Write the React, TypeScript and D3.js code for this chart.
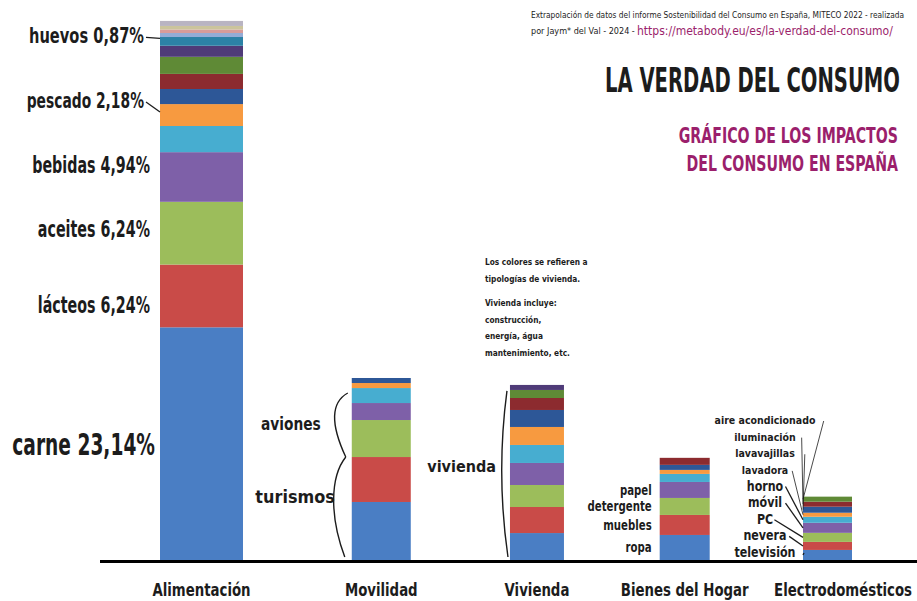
import React from "react";
import * as d3 from "d3";

// ---------- DATA ----------
const categories = ["Alimentación", "Movilidad", "Vivienda", "Bienes del Hogar", "Electrodomésticos"];

const alimentacionItems = ["carne", "lácteos", "aceites", "bebidas", "", "pescado", "", "", "", "", "huevos", "", "", "", ""];
const alimentacionValues = [23.14, 6.24, 6.24, 4.94, 2.6, 2.18, 1.5, 1.5, 1.7, 1.1, 0.87, 0.4, 0.35, 0.35, 0.5];

const movilidadValues = [5.77, 4.47, 3.68, 1.69, 1.49, 0.5, 0.5];
const movilidadGroups = ["turismos", "aviones"];
const movilidadGroupSizes = [2, 5];

const viviendaValues = [2.68, 2.59, 2.19, 2.19, 1.79, 1.79, 1.69, 1.19, 0.8, 0.5];

const bienesItems = ["ropa", "muebles", "detergente", "papel", "", "", "", ""];
const bienesValues = [2.49, 1.99, 1.69, 1.59, 0.8, 0.4, 0.5, 0.7];

const electroItems = ["televisión", "nevera", "PC", "móvil", "horno", "lavadora", "lavavajillas", "iluminación", "aire acondicionado"];
const electroValues = [1.0, 0.8, 0.9, 1.0, 0.6, 0.4, 0.6, 0.5, 0.5];

const sourceLine1 = "Extrapolación de datos del informe Sostenibilidad del Consumo en España, MITECO 2022 - realizada";
const sourceLine2 = "por Jaym* del Val - 2024 -";
const sourceUrl = "https://metabody.eu/es/la-verdad-del-consumo/";
const title = "LA VERDAD DEL CONSUMO";
const subtitle = ["GRÁFICO DE LOS IMPACTOS", "DEL CONSUMO EN ESPAÑA"];
const viviendaNote = ["Los colores se refieren a", "tipologías de vivienda.", "Vivienda incluye:", "construcción,", "energía, água", "mantenimiento, etc."];

// ---------- STYLE / LAYOUT ----------
const palette = [
  "#4a7ec4", "#c94b48", "#9cbd5b", "#7e60a8", "#47add0", "#f79a40",
  "#2d5797", "#8c2b2f", "#5f8a36", "#4f3b78", "#2c82a6",
  "#95acd6", "#d89c9a", "#cbc49c", "#b9b4c2",
];
const FONT = "'DejaVu Sans Condensed', 'DejaVu Sans', sans-serif";
const INK = "#1c1c1c";
const MAGENTA = "#9b1f6c";
const W = 917;
const H = 601;
const BASE = 560;
const BAR_W = [83, 59, 54, 50, 49];

const y = d3.scaleLinear().domain([0, 54]).range([BASE, 17]);
const xIdx = d3.scalePow().exponent(0.9).domain([0, categories.length - 1]).range([201.5, 827.5]);

type Seg = { i: number; y0: number; y1: number; v: number };
function stackOf(values: number[]): Seg[] {
  const cum = Array.from(d3.cumsum(values));
  return values.map((v, i) => ({ i, v, y0: cum[i] - v, y1: cum[i] }));
}
const fmt = (v: number) => v.toFixed(2).replace(".", ",") + "%";

type TP = { x: number; y: number; size: number; sx?: number; anchor?: string; bold?: boolean; fill?: string; children: any };
function T({ x, y: yy, size, sx = 1, anchor = "start", bold = true, fill = INK, children }: TP) {
  return (
    <text transform={`translate(${x},${yy}) scale(${sx},1)`} fontSize={size} fontWeight={bold ? "bold" : "normal"} fill={fill} textAnchor={anchor}>
      {children}
    </text>
  );
}

function Bar({ idx, values }: { idx: number; values: number[] }) {
  const cx = xIdx(idx);
  const w = BAR_W[idx];
  const segs = stackOf(values);
  return (
    <g>
      {segs.map((s) => (
        <rect key={s.i} x={cx - w / 2} y={y(s.y1)} width={w} height={y(s.y0) - y(s.y1)} fill={palette[s.i % palette.length]} />
      ))}
    </g>
  );
}

export default function App() {
  const left = (i: number) => xIdx(i) - BAR_W[i] / 2;
  const alSegs = stackOf(alimentacionValues);
  const mid = (s: Seg) => (y(s.y0) + y(s.y1)) / 2;

  // alimentación labels: [index, fontSize, dy, leader, scaleX]
  const alLabels: [number, number, number, boolean, number][] = [
    [0, 30, 11, false, 0.69],
    [1, 23, 17, false, 0.69],
    [2, 23, 4, false, 0.69],
    [3, 23, -4, false, 0.69],
    [5, 22, -7, true, 0.7],
    [10, 22, 2, true, 0.74],
  ];

  const mvSplit = d3.sum(movilidadValues.slice(0, movilidadGroupSizes[0]));
  const mvTotal = d3.sum(movilidadValues);
  const mL = left(1);
  const yS = y(mvSplit);
  const yB = y(0) - 3;
  const yT = y(mvTotal) + 15;
  const topArc = `M${mL - 4},${yT} C${mL - 22},${yT + 10} ${mL - 20},${yS - 30} ${mL - 6},${yS}`;
  const botArc = `M${mL - 6},${yS} C${mL - 22},${yS + 20} ${mL - 22},${yB - 40} ${mL - 7},${yB}`;

  const vL = left(2);
  const vTop = y(d3.sum(viviendaValues)) + 6;
  const vArc = `M${vL - 3},${vTop} Q${vL - 14},${(vTop + yB) / 2} ${vL - 2},${yB}`;

  const bSegs = stackOf(bienesValues);
  const eSegs = stackOf(electroValues);
  const eL = left(4);
  const eLabelY = d3.scaleLinear().domain([0, electroItems.length - 1]).range([557, 424]);
  const eBig = (i: number) => i < 5;

  return (
    <div style={{ position: "absolute", left: 0, top: 0 }}>
      <svg width={W} height={H} style={{ display: "block", background: "#fff" }} fontFamily={FONT}>
        <rect width={W} height={H} fill="#fff" />

        {/* header */}
        <T x={531} y={18} size={9} sx={0.92} bold={false}>{sourceLine1}</T>
        <T x={531} y={34} size={9} bold={false}>{sourceLine2}</T>
        <T x={637} y={35} size={12} bold={false} fill={MAGENTA}>{sourceUrl}</T>
        <T x={900} y={92} size={33} sx={0.66} anchor="end">{title}</T>
        {subtitle.map((t, i) => (
          <T key={i} x={898} y={143 + i * 28} size={21} sx={0.75} anchor="end" fill={MAGENTA}>{t}</T>
        ))}

        {/* bars */}
        <Bar idx={0} values={alimentacionValues} />
        <Bar idx={1} values={movilidadValues} />
        <Bar idx={2} values={viviendaValues} />
        <Bar idx={3} values={bienesValues} />
        <Bar idx={4} values={electroValues} />

        {/* baseline */}
        <line x1={100} x2={W} y1={BASE + 1.5} y2={BASE + 1.5} stroke="#000" strokeWidth={3} />

        {/* category labels */}
        {categories.map((c, i) => (
          <T key={c} x={i === 4 ? 912 : xIdx(i)} y={596} size={17} sx={0.87} anchor={i === 4 ? "end" : "middle"}>{c}</T>
        ))}

        {/* alimentación labels */}
        {alLabels.map(([k, fs, dy, leader, sx]) => {
          const s = alSegs[k];
          const by = mid(s) + dy;
          const endX = leader ? left(0) - 16 : k === 0 ? left(0) - 5 : left(0) - 10;
          return (
            <g key={k}>
              <T x={endX} y={by} size={fs} sx={sx} anchor="end">
                {alimentacionItems[k] + " " + fmt(alimentacionValues[k])}
              </T>
              {leader && <line x1={endX + 2} y1={by - 6} x2={left(0)} y2={mid(s) - 3} stroke={INK} strokeWidth={1.3} />}
            </g>
          );
        })}

        {/* movilidad brackets */}
        <path d={topArc} fill="none" stroke={INK} strokeWidth={1.4} />
        <path d={botArc} fill="none" stroke={INK} strokeWidth={1.4} />
        <T x={mL - 31} y={(yT + yS) / 2 + 5} size={17} sx={0.9} anchor="end">{movilidadGroups[1]}</T>
        <T x={mL - 17} y={(yS + yB) / 2 - 4} size={17} sx={1.05} anchor="end">{movilidadGroups[0]}</T>

        {/* vivienda */}
        <path d={vArc} fill="none" stroke={INK} strokeWidth={1.4} />
        <T x={vL - 14} y={472} size={16} anchor="end">vivienda</T>
        {viviendaNote.map((t, i) => (
          <T key={i} x={485} y={265 + i * 16.5 + (i >= 2 ? 8 : 0)} size={9.5} sx={0.87}>{t}</T>
        ))}

        {/* bienes labels */}
        {bSegs.slice(0, 4).map((s) => (
          <T key={s.i} x={left(3) - 8} y={mid(s) + 5} size={14.5} sx={0.78} anchor="end">{bienesItems[s.i]}</T>
        ))}

        {/* electro labels */}
        {eSegs.map((s) => {
          const ly = eLabelY(s.i);
          const big = eBig(s.i);
          const size = big ? 14.5 : 10.5;
          const sx = big ? 0.85 : 1;
          const half = electroItems[s.i].length * size * 0.3 * sx;
          const cx = 765;
          return (
            <g key={s.i}>
              <T x={cx} y={ly} size={size} sx={sx} anchor="middle">{electroItems[s.i]}</T>
              <line x1={cx + half + 2} y1={ly - (big ? 4 : 3)} x2={eL} y2={mid(s)} stroke={INK} strokeWidth={big ? 1.3 : 0.8} />
            </g>
          );
        })}
      </svg>
    </div>
  );
}
